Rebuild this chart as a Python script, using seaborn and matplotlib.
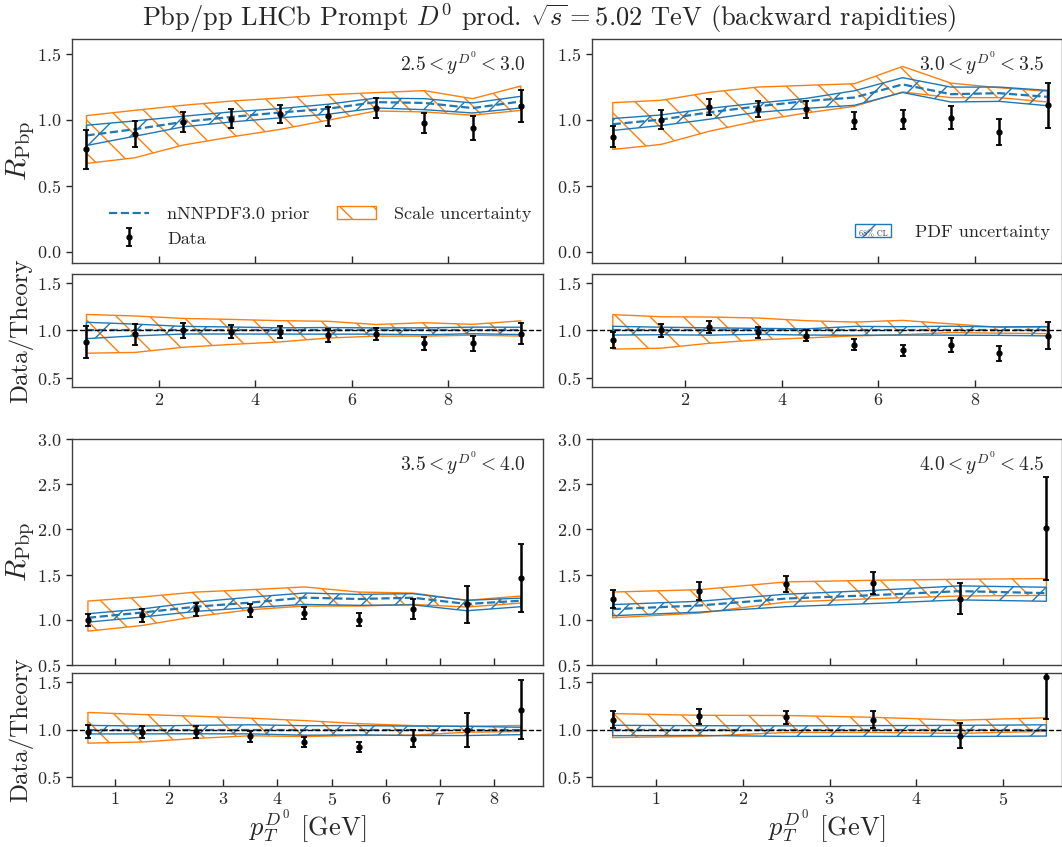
import numpy as np
import pandas as pd
import seaborn as sns
import matplotlib
matplotlib.use("Agg")
from matplotlib import pyplot as plt
from matplotlib.patches import Rectangle
from matplotlib.text import Text
from matplotlib.legend_handler import HandlerPatch

# pT bin centres
pt_10 = [0.5, 1.5, 2.5, 3.5, 4.5, 5.5, 6.5, 7.5, 8.5, 9.5]
pt_9 = [0.5, 1.5, 2.5, 3.5, 4.5, 5.5, 6.5, 7.5, 8.5]
pt_6 = [0.5, 1.5, 2.5, 3.5, 4.5, 5.5]

# 2.5 < y < 3.0
data_a = [0.774, 0.889, 0.982, 1.008, 1.040, 1.025, 1.088, 0.975, 0.937, 1.100]
err_a = [0.147, 0.100, 0.075, 0.070, 0.068, 0.070, 0.074, 0.078, 0.088, 0.122]
cent_a = [0.880, 0.927, 0.982, 1.020, 1.053, 1.082, 1.132, 1.126, 1.087, 1.137]
pdf_lo_a = [0.804, 0.874, 0.945, 0.982, 1.013, 1.040, 1.088, 1.075, 1.050, 1.088]
pdf_hi_a = [0.957, 0.990, 1.025, 1.058, 1.083, 1.116, 1.163, 1.158, 1.126, 1.176]
sc_lo_a = [0.668, 0.711, 0.807, 0.869, 0.925, 0.995, 1.065, 1.058, 1.033, 1.070]
sc_hi_a = [1.030, 1.070, 1.108, 1.140, 1.163, 1.188, 1.204, 1.219, 1.158, 1.254]

# 3.0 < y < 3.5
data_b = [0.869, 1.000, 1.095, 1.078, 1.078, 0.992, 1.000, 1.013, 0.907, 1.108]
err_b = [0.080, 0.070, 0.063, 0.062, 0.065, 0.065, 0.072, 0.087, 0.100, 0.168]
cent_b = [0.965, 1.000, 1.055, 1.100, 1.140, 1.167, 1.266, 1.192, 1.200, 1.172]
pdf_lo_b = [0.918, 0.955, 1.003, 1.055, 1.085, 1.108, 1.205, 1.133, 1.138, 1.105]
pdf_hi_b = [1.008, 1.035, 1.085, 1.125, 1.160, 1.218, 1.317, 1.246, 1.246, 1.221]
sc_lo_b = [0.774, 0.812, 0.912, 0.990, 1.050, 1.100, 1.209, 1.166, 1.166, 1.133]
sc_hi_b = [1.128, 1.146, 1.206, 1.246, 1.259, 1.271, 1.402, 1.276, 1.241, 1.214]

# 3.5 < y < 4.0
data_c = [1.000, 1.048, 1.115, 1.104, 1.078, 1.000, 1.122, 1.170, 1.467]
err_c = [0.068, 0.067, 0.074, 0.069, 0.067, 0.070, 0.111, 0.209, 0.376]
cent_c = [1.022, 1.080, 1.145, 1.190, 1.245, 1.230, 1.244, 1.175, 1.211]
pdf_lo_c = [0.974, 1.030, 1.093, 1.135, 1.170, 1.160, 1.165, 1.100, 1.145]
pdf_hi_c = [1.067, 1.120, 1.196, 1.250, 1.296, 1.281, 1.289, 1.215, 1.240]
sc_lo_c = [0.874, 0.937, 1.037, 1.111, 1.152, 1.152, 1.170, 1.141, 1.185]
sc_hi_c = [1.207, 1.252, 1.307, 1.333, 1.363, 1.307, 1.296, 1.215, 1.263]

# 4.0 < y < 4.5
data_d = [1.233, 1.319, 1.393, 1.407, 1.233, 2.011]
err_d = [0.100, 0.096, 0.090, 0.117, 0.174, 0.570]
cent_d = [1.118, 1.158, 1.235, 1.272, 1.317, 1.295]
pdf_lo_d = [1.045, 1.085, 1.145, 1.180, 1.220, 1.205]
pdf_hi_d = [1.168, 1.205, 1.283, 1.325, 1.375, 1.360]
sc_lo_d = [1.022, 1.074, 1.196, 1.233, 1.263, 1.270]
sc_hi_d = [1.307, 1.333, 1.419, 1.437, 1.448, 1.456]

labels = [r"$2.5 < y^{D^0} < 3.0$", r"$3.0 < y^{D^0} < 3.5$",
          r"$3.5 < y^{D^0} < 4.0$", r"$4.0 < y^{D^0} < 4.5$"]

blue = "#1f77b4"
orange = "#ff7f0e"

sns.set_theme(style="ticks")
plt.rcParams["font.family"] = "serif"
plt.rcParams["font.serif"] = ["cmr10"]
plt.rcParams["mathtext.fontset"] = "cm"
plt.rcParams["axes.formatter.use_mathtext"] = True
plt.rcParams["hatch.linewidth"] = 1.0
plt.rcParams["axes.edgecolor"] = "0.25"
plt.rcParams["axes.linewidth"] = 1.0


class HandlerCL(HandlerPatch):
    # hatched box with a tiny "68% CL" written inside
    def create_artists(self, legend, orig_handle, xdescent, ydescent,
                       width, height, fontsize, trans):
        p = Rectangle((-xdescent, -ydescent), width, height, facecolor="none",
                      edgecolor=blue, hatch="/", lw=1.0, transform=trans)
        t = Text(-xdescent + width / 2, -ydescent - 1, "68% CL", fontsize=fontsize * 0.45,
                 ha="center", va="bottom", color="0.2", transform=trans)
        return [p, t]


def panel(ax, axr, pt, data, err, cent, pdf_lo, pdf_hi, sc_lo, sc_hi):
    pt = np.array(pt)
    data, err, cent = np.array(data), np.array(err), np.array(cent)
    pdf_lo, pdf_hi = np.array(pdf_lo), np.array(pdf_hi)
    sc_lo, sc_hi = np.array(sc_lo), np.array(sc_hi)

    sc = ax.fill_between(pt, sc_lo, sc_hi, facecolor="none", edgecolor=orange,
                         hatch="\\", lw=1.0, zorder=2)
    pdf = ax.fill_between(pt, pdf_lo, pdf_hi, facecolor="none", edgecolor=blue,
                          hatch="/", lw=1.0, zorder=3)
    df = pd.DataFrame({"pt": pt, "cent": cent})
    sns.lineplot(data=df, x="pt", y="cent", ax=ax, color=blue, linestyle="--",
                 lw=1.6, zorder=4, legend=False)
    eb = ax.errorbar(pt, data, yerr=err, fmt="o", color="black", ms=3.5,
                     elinewidth=1.8, capsize=2.5, capthick=1.3, zorder=5)

    # ratio to the central theory
    axr.fill_between(pt, sc_lo / cent, sc_hi / cent, facecolor="none",
                     edgecolor=orange, hatch="\\", lw=1.0, zorder=2)
    axr.fill_between(pt, pdf_lo / cent, pdf_hi / cent, facecolor="none",
                     edgecolor=blue, hatch="/", lw=1.0, zorder=3)
    dfr = pd.DataFrame({"pt": pt, "r": cent / cent})
    sns.lineplot(data=dfr, x="pt", y="r", ax=axr, color=blue, linestyle="--",
                 lw=1.6, zorder=4, legend=False)
    axr.axhline(1.0, color="black", ls="--", lw=1.0, zorder=4)
    axr.errorbar(pt, data / cent, yerr=err / cent, fmt="o", color="black", ms=3.5,
                 elinewidth=1.8, capsize=2.5, capthick=1.3, zorder=5)
    return sc, pdf, eb


fig = plt.figure(figsize=(10.62, 8.47), dpi=100)

L, WL = 72 / 1062, 471 / 1062
R, WR = 592 / 1062, 470 / 1062
rects = {
    "a": ([L, 0.6895, WL, 0.2645], [L, 0.5431, WL, 0.1334]),
    "b": ([R, 0.6895, WR, 0.2645], [R, 0.5431, WR, 0.1334]),
    "c": ([L, 0.2149, WL, 0.2668], [L, 0.0720, WL, 0.1334]),
    "d": ([R, 0.2149, WR, 0.2668], [R, 0.0720, WR, 0.1334]),
}
sets = {
    "a": (pt_10, data_a, err_a, cent_a, pdf_lo_a, pdf_hi_a, sc_lo_a, sc_hi_a),
    "b": (pt_10, data_b, err_b, cent_b, pdf_lo_b, pdf_hi_b, sc_lo_b, sc_hi_b),
    "c": (pt_9, data_c, err_c, cent_c, pdf_lo_c, pdf_hi_c, sc_lo_c, sc_hi_c),
    "d": (pt_6, data_d, err_d, cent_d, pdf_lo_d, pdf_hi_d, sc_lo_d, sc_hi_d),
}
xlims = {"a": (0.2, 9.96), "b": (0.07, 9.8), "c": (0.206, 8.905), "d": (0.262, 5.68)}
xticks = {"a": [2, 4, 6, 8], "b": [2, 4, 6, 8], "c": range(1, 9), "d": range(1, 6)}

handles = {}
for i, k in enumerate("abcd"):
    ax = fig.add_axes(rects[k][0])
    axr = fig.add_axes(rects[k][1])
    handles[k] = panel(ax, axr, *sets[k])

    for a in (ax, axr):
        a.set_xlim(*xlims[k])
        a.set_xticks(list(xticks[k]))
        a.tick_params(axis="x", direction="in", length=5, width=1, labelsize=13)
        a.tick_params(axis="y", direction="out", length=4, width=1, labelsize=13)
        a.set_xlabel("")
        a.set_ylabel("")
    ax.tick_params(axis="x", labelbottom=False)

    if k in "ab":
        ax.set_ylim(-0.085, 1.61)
        ax.set_yticks([0.0, 0.5, 1.0, 1.5])
    else:
        ax.set_ylim(0.5, 3.0)
        ax.set_yticks([0.5, 1.0, 1.5, 2.0, 2.5, 3.0])
    axr.set_ylim(0.4, 1.6)
    axr.set_yticks([0.5, 1.0, 1.5])

    ax.text(0.962, 0.955, labels[i], transform=ax.transAxes, ha="right",
            va="top", fontsize=14)

    if k in "ac":
        ax.set_ylabel(r"$R_{\mathrm{Pbp}}$", fontsize=21, labelpad=0)
        axr.set_ylabel("Data/Theory", fontsize=18, labelpad=3)
    if k in "cd":
        axr.set_xlabel(r"$p_T^{D^0}$ [GeV]", fontsize=19, labelpad=0)

    if k == "a":
        sc, pdf, eb = handles[k]
        line = ax.get_lines()[0]
        ax.legend([line, eb, sc], ["nNNPDF3.0 prior", "Data", "Scale uncertainty"],
                  ncol=2, loc="lower left", bbox_to_anchor=(0.045, 0.0),
                  frameon=False, fontsize=13, columnspacing=1.5,
                  handlelength=2.2, handletextpad=1.0)
    if k == "b":
        sc, pdf, eb = handles[k]
        ax.legend([pdf], ["PDF uncertainty"], loc="lower right",
                  bbox_to_anchor=(1.008, 0.03), frameon=False, fontsize=13,
                  handler_map={pdf: HandlerCL()}, handletextpad=1.3)

fig.suptitle(r"Pbp/pp LHCb Prompt $D^0$ prod. $\sqrt{s} = 5.02$ TeV (backward rapidities)",
             fontsize=19, x=0.517, y=0.999)

fig.savefig("out.png", dpi=100)
